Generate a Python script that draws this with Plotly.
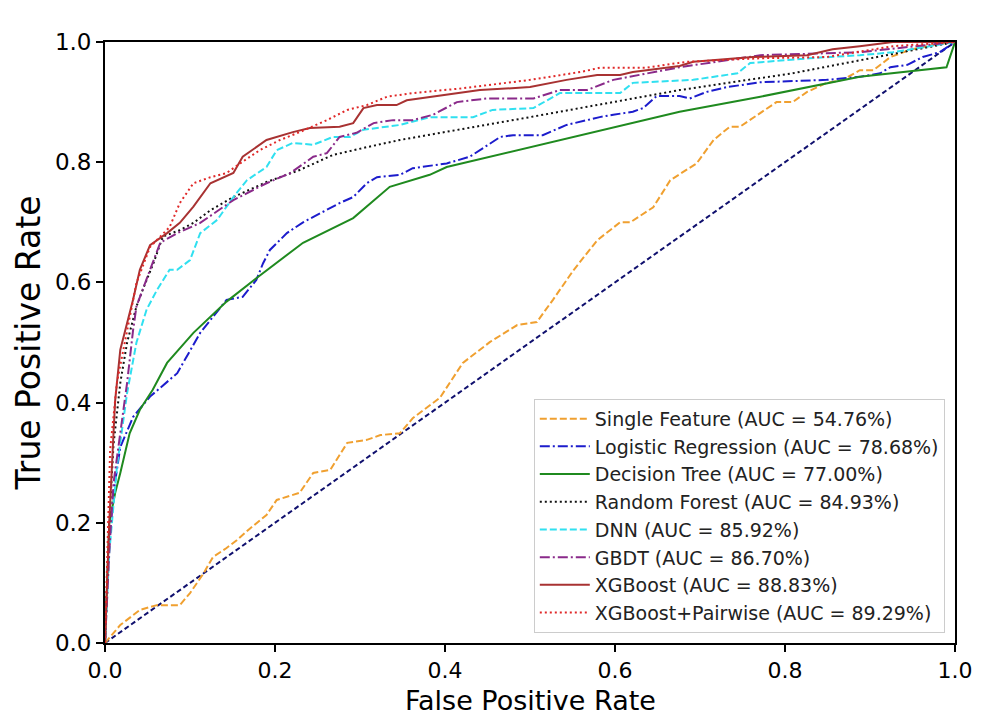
import plotly.graph_objects as go

# ROC curves
single_fpr = [0, 0.018, 0.041, 0.061, 0.088, 0.1, 0.116, 0.127, 0.143, 0.155, 0.171, 0.19, 0.202, 0.229, 0.245, 0.265,
              0.285, 0.308, 0.324, 0.347, 0.362, 0.394, 0.421, 0.453, 0.485, 0.508, 0.527, 0.551, 0.579, 0.606, 0.618,
              0.645, 0.665, 0.684, 0.696, 0.716, 0.735, 0.747, 0.771, 0.79, 0.809, 0.826, 0.849, 0.868, 0.888, 0.904,
              0.924, 0.947, 0.974, 1.0]
single_tpr = [0, 0.03, 0.055, 0.063, 0.063, 0.083, 0.116, 0.143, 0.158, 0.171, 0.191, 0.213, 0.238, 0.25, 0.283, 0.288,
              0.333, 0.338, 0.346, 0.349, 0.374, 0.408, 0.466, 0.501, 0.529, 0.534, 0.571, 0.62, 0.67, 0.70, 0.70,
              0.725, 0.77, 0.787, 0.798, 0.837, 0.859, 0.859, 0.882, 0.90, 0.90, 0.917, 0.932, 0.937, 0.953, 0.953,
              0.975, 0.987, 0.995, 1.0]

lr_fpr = [0, 0.004, 0.01, 0.018, 0.033, 0.053, 0.085, 0.112, 0.143, 0.162, 0.178, 0.186, 0.194, 0.214, 0.233, 0.261,
          0.276, 0.292, 0.308, 0.32, 0.347, 0.362, 0.402, 0.429, 0.465, 0.48, 0.515, 0.543, 0.567, 0.582, 0.598, 0.621,
          0.633, 0.649, 0.676, 0.688, 0.708, 0.732, 0.771, 0.849, 0.888, 0.912, 0.924, 0.944, 0.962, 0.982, 1.0]
lr_tpr = [0, 0.15, 0.25, 0.326, 0.376, 0.41, 0.449, 0.516, 0.571, 0.576, 0.604, 0.632, 0.654, 0.682, 0.70, 0.72,
          0.732, 0.742, 0.765, 0.775, 0.779, 0.79, 0.798, 0.809, 0.842, 0.845, 0.845, 0.862, 0.87, 0.875, 0.879, 0.884,
          0.89, 0.91, 0.91, 0.906, 0.917, 0.925, 0.933, 0.937, 0.942, 0.948, 0.958, 0.962, 0.975, 0.983, 1.0]

dt_fpr = [0, 0.005, 0.012, 0.018, 0.029, 0.041, 0.056, 0.073, 0.104, 0.143, 0.178, 0.233, 0.292, 0.335, 0.382, 0.402,
          0.676, 0.771, 0.888, 0.99, 1.0]
dt_tpr = [0, 0.2, 0.25, 0.283, 0.349, 0.388, 0.421, 0.466, 0.516, 0.568, 0.607, 0.666, 0.707, 0.759, 0.779, 0.792,
          0.884, 0.909, 0.942, 0.958, 1.0]

rf_fpr = [0, 0.005, 0.01, 0.018, 0.026, 0.037, 0.045, 0.057, 0.068, 0.088, 0.104, 0.124, 0.151, 0.19, 0.229, 0.268,
          0.308, 0.347, 0.5, 0.676, 0.809, 1.0]
rf_tpr = [0, 0.2, 0.33, 0.433, 0.5, 0.56, 0.59, 0.632, 0.676, 0.687, 0.699, 0.72, 0.742, 0.767, 0.787, 0.812,
          0.825, 0.837, 0.875, 0.92, 0.948, 1.0]

dnn_fpr = [0, 0.005, 0.014, 0.026, 0.037, 0.049, 0.061, 0.076, 0.085, 0.1, 0.112, 0.132, 0.151, 0.167, 0.19, 0.202,
           0.221, 0.245, 0.268, 0.288, 0.304, 0.347, 0.382, 0.433, 0.456, 0.504, 0.535, 0.606, 0.621, 0.692, 0.744,
           0.759, 0.829, 0.888, 0.927, 1.0]
dnn_tpr = [0, 0.15, 0.293, 0.416, 0.5, 0.555, 0.587, 0.621, 0.621, 0.637, 0.682, 0.704, 0.742, 0.77, 0.792, 0.82,
           0.832, 0.829, 0.842, 0.842, 0.854, 0.862, 0.875, 0.875, 0.887, 0.89, 0.915, 0.915, 0.932, 0.937, 0.948,
           0.965, 0.973, 0.978, 0.983, 1.0]

gb_fpr = [0, 0.005, 0.01, 0.018, 0.026, 0.033, 0.037, 0.053, 0.065, 0.085, 0.112, 0.151, 0.19, 0.218, 0.245, 0.261,
          0.276, 0.296, 0.316, 0.339, 0.362, 0.386, 0.414, 0.449, 0.504, 0.535, 0.567, 0.598, 0.676, 0.771, 0.888, 1.0]
gb_tpr = [0, 0.15, 0.266, 0.349, 0.433, 0.52, 0.56, 0.621, 0.666, 0.682, 0.699, 0.737, 0.765, 0.782, 0.809, 0.815,
          0.842, 0.849, 0.865, 0.87, 0.87, 0.879, 0.90, 0.906, 0.906, 0.92, 0.92, 0.937, 0.958, 0.978, 0.983, 1.0]

xgb_fpr = [0, 0.005, 0.01, 0.012, 0.018, 0.033, 0.041, 0.053, 0.073, 0.088, 0.104, 0.124, 0.151, 0.162, 0.19, 0.221,
           0.241, 0.276, 0.292, 0.304, 0.32, 0.343, 0.355, 0.402, 0.441, 0.5, 0.543, 0.579, 0.606, 0.621, 0.649, 0.676,
           0.692, 0.762, 0.826, 0.856, 0.888, 0.927, 1.0]
xgb_tpr = [0, 0.2, 0.349, 0.404, 0.488, 0.571, 0.621, 0.662, 0.682, 0.699, 0.726, 0.765, 0.782, 0.809, 0.837, 0.85,
           0.857, 0.859, 0.865, 0.89, 0.895, 0.895, 0.903, 0.912, 0.92, 0.925, 0.937, 0.945, 0.945, 0.95, 0.955, 0.96,
           0.967, 0.975, 0.978, 0.988, 0.993, 1.0, 1.0]

xp_fpr = [0, 0.003, 0.006, 0.014, 0.026, 0.037, 0.053, 0.076, 0.088, 0.104, 0.124, 0.143, 0.159, 0.182, 0.206, 0.229,
          0.261, 0.285, 0.308, 0.332, 0.362, 0.421, 0.5, 0.559, 0.582, 0.635, 0.684, 0.771, 0.849, 0.927, 1.0]
xp_tpr = [0, 0.15, 0.321, 0.433, 0.52, 0.599, 0.659, 0.692, 0.732, 0.765, 0.775, 0.782, 0.798, 0.82, 0.837, 0.85,
          0.87, 0.887, 0.895, 0.909, 0.915, 0.923, 0.937, 0.95, 0.957, 0.957, 0.967, 0.973, 0.975, 0.993, 1.0]

chance = [0, 1]

names = ["Single Feature (AUC = 54.76%)", "Logistic Regression (AUC = 78.68%)", "Decision Tree (AUC = 77.00%)",
         "Random Forest (AUC = 84.93%)", "DNN (AUC = 85.92%)", "GBDT (AUC = 86.70%)",
         "XGBoost (AUC = 88.83%)", "XGBoost+Pairwise (AUC = 89.29%)"]

ticks = [0, 0.2, 0.4, 0.6, 0.8, 1.0]
tick_text = ["0.0", "0.2", "0.4", "0.6", "0.8", "1.0"]

curves = [
    (single_fpr, single_tpr, "#f0a030", "7px,3px"),
    (lr_fpr, lr_tpr, "#1c1ccc", "10px,3px,2px,3px"),
    (dt_fpr, dt_tpr, "#1f8a1f", "solid"),
    (rf_fpr, rf_tpr, "#111111", "2px,3px"),
    (dnn_fpr, dnn_tpr, "#30e0f0", "7px,3px"),
    (gb_fpr, gb_tpr, "#8a2a8a", "10px,3px,2px,3px"),
    (xgb_fpr, xgb_tpr, "#a83232", "solid"),
    (xp_fpr, xp_tpr, "#e02828", "2px,3px"),
]


def make_graph():
    fig = go.Figure()

    # chance line goes in first, without a legend entry
    fig.add_trace(go.Scatter(
        x=chance, y=chance, mode="lines", showlegend=False,
        line=dict(color="#10106e", width=2, dash="5px,3px")))

    for (x, y, color, dash), name in zip(curves, names):
        fig.add_trace(go.Scatter(
            x=x, y=y, mode="lines", name=name,
            line=dict(color=color, width=2, dash=dash)))

    axis = dict(
        range=[0, 1], tickvals=ticks, ticktext=tick_text,
        showgrid=False, zeroline=False,
        showline=True, linecolor="black", linewidth=1.8, mirror=True,
        ticks="outside", ticklen=7, tickwidth=1.5, tickcolor="black",
        tickfont=dict(size=23, color="black"),
    )
    fig.update_xaxes(axis, tickfont=dict(size=22, color="black"))
    fig.update_yaxes(axis, title=dict(text="True Positive Rate", font=dict(size=33, color="black"), standoff=4))

    # x title as an annotation: the axis title sat too low and got clipped
    fig.add_annotation(
        text="False Positive Rate", xref="paper", yref="paper",
        x=0.5, y=-0.096, xanchor="center", yanchor="middle",
        showarrow=False, font=dict(size=27, color="black"))

    # the page body adds 8px around the plot, so margins are trimmed by that much
    fig.update_layout(
        width=987, height=718,
        margin=dict(l=97, r=40, t=34, b=83),
        plot_bgcolor="white", paper_bgcolor="white",
        font=dict(family="DejaVu Sans", color="#222222"),
        legend=dict(
            x=0.988, y=0.017, xanchor="right", yanchor="bottom",
            bgcolor="rgba(255,255,255,0.85)", bordercolor="#cccccc", borderwidth=1,
            font=dict(size=19, color="#222222"),
            itemwidth=50,
        ),
    )
    return fig


fig = make_graph()
fig.write_html("out.html")
